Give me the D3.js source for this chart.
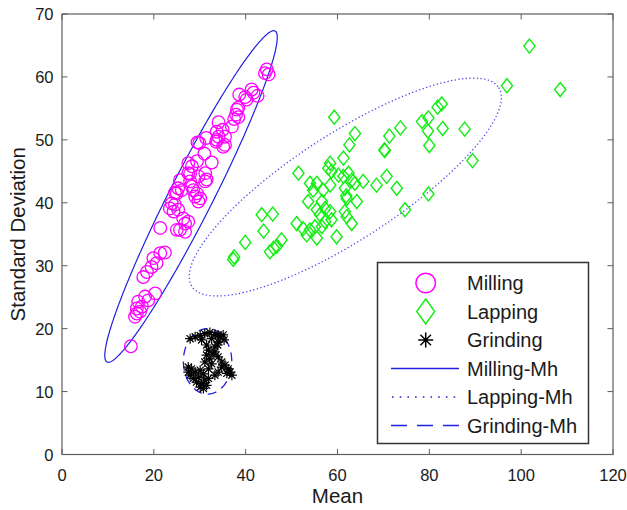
<!DOCTYPE html>
<html><head><meta charset="utf-8">
<script src="https://cdn.jsdelivr.net/npm/d3@7"></script>
<style>
html,body{margin:0;padding:0;background:#fff;}
text{font-family:"Liberation Sans",Arial,sans-serif;}
</style></head>
<body>
<svg id="chart" width="627" height="510"></svg>
<script>
// ---------- data ----------
const milling = [
[44.6,61.2],[44.2,60.6],[45.0,60.4],
[38.6,57.2],[39.9,56.8],[41.3,58.0],[41.7,57.5],[42.6,57.0],[40.2,56.4],
[38.1,54.8],[37.9,54.0],[37.5,53.3],[38.4,53.6],[38.4,55.1],
[37.0,52.1],[34.1,52.8],[33.7,51.3],[35.0,51.6],[34.1,50.5],[35.5,50.5],[33.6,49.7],[35.1,48.9],[33.7,50.0],[35.5,49.2],
[29.5,49.6],[31.4,50.3],[29.9,49.5],
[31.0,47.8],[32.6,46.4],[27.5,46.3],[29.4,46.6],[28.3,45.8],
[27.9,44.6],[27.9,43.4],[31.2,44.7],[31.5,43.7],[29.7,44.2],[27.5,44.7],
[25.7,43.6],[25.3,42.3],[28.3,42.6],[28.6,42.0],[29.4,41.5],[24.6,41.6],[29.0,41.0],[30.1,40.7],[31.2,43.4],[26.1,42.0],[25.0,41.5],[29.7,40.2],
[24.6,39.7],[23.5,39.1],[24.3,38.6],[25.3,38.9],[23.9,39.9],
[26.4,37.5],[27.5,37.0],[26.8,36.7],[25.7,35.7],[26.8,35.4],[25.0,35.7],
[21.4,36.0],
[21.4,32.0],[22.4,32.1],[19.9,31.2],[20.6,30.4],[19.5,29.8],[18.5,29.0],[17.7,28.2],
[18.1,25.1],[18.8,24.5],[16.6,24.3],[17.4,23.5],[20.3,25.6],[16.3,23.2],
[16.3,22.4],[15.9,21.9],[17.0,22.7],
[15.0,17.2]
];
const lapping = [
[101.8,64.9],[108.5,58.0],[96.9,58.6],[73.7,51.9],[71.3,50.6],[78.4,52.9],[79.8,53.5],[81.8,55.2],[82.7,55.7],
[79.7,51.4],[82.9,51.8],[87.7,51.7],[80.0,49.1],[89.4,46.7],[79.8,41.4],[70.2,48.4],[59.3,53.6],[63.8,51.0],
[61.9,41.1],[43.5,38.1],[45.9,38.2],[43.9,35.5],[39.9,33.7],[45.3,32.2],[46.1,32.8],[46.8,33.1],[37.3,31.0],[37.5,31.4],
[62.6,49.2],[70.3,48.3],[61.3,47.1],[58.4,46.3],[58.0,45.5],[58.7,45.0],[51.5,44.7],[60.2,44.4],[61.3,44.2],[62.4,44.7],
[63.1,43.6],[63.8,43.1],[65.6,43.4],[68.5,42.8],[70.7,44.2],[72.9,42.3],[54.0,43.1],[55.5,43.1],[54.7,42.0],[56.9,42.0],
[58.4,42.8],[61.6,42.3],[53.6,40.2],[56.6,40.2],[62.0,40.7],[64.2,40.2],[55.5,38.9],[57.3,39.1],[58.4,38.6],[56.2,38.1],
[61.6,38.6],[62.0,37.8],[63.1,36.7],[58.7,37.3],[51.1,36.7],[52.5,35.9],[54.0,35.7],[55.1,36.2],[56.6,36.2],[53.3,34.9],
[55.5,34.4],[59.8,34.6],[47.8,34.1],[74.7,38.9],[57.3,37.0]
];
const grinding = [
[27.9,18.4],[29.0,18.7],[30.1,18.9],[31.1,19.2],[32.2,19.4],[33.3,19.1],[34.4,18.7],[35.3,18.2],[34.0,17.9],[32.6,18.4],[30.4,18.2],
[34.0,19.0],[35.1,19.0],[33.3,17.1],[33.9,17.4],
[31.5,17.4],[31.9,16.6],[31.5,15.8],[32.2,15.2],[32.6,14.4],[31.9,13.6],[32.9,16.0],[31.1,14.7],
[33.3,16.3],[34.0,15.5],[34.8,14.7],[35.5,14.2],[36.2,13.6],[36.6,13.1],[37.0,12.6],[35.9,12.9],[34.8,13.9],
[27.5,13.9],[28.2,13.6],[29.0,13.1],[30.1,13.4],[27.9,12.6],[28.6,12.1],[29.7,12.3],[30.8,12.8],[29.3,11.5],[30.4,11.3],
[31.1,11.8],[31.9,12.1],[31.5,11.0],[30.8,10.5],[33.3,12.6],[34.0,13.1],[30.1,10.7],[27.5,13.1]
];
// Mahalanobis ellipses: centre, half-axis vector 1, half-axis vector 2 (data units)
const millingMh  = {c:[28.1,41.0], u:[18.3,26.3], v:[4.22,-1.56]};
const lappingMh  = {c:[61.7,42.5], u:[33.4,15.8], v:[6.29,-7.07]};
const grindingMh = {c:[31.7,14.8], u:[5.27,0],    v:[0,5.2]};
const xTicks = [0,20,40,60,80,100,120];
const yTicks = [0,10,20,30,40,50,60,70];
const legendLabels = ["Milling","Lapping","Grinding","Milling-Mh","Lapping-Mh","Grinding-Mh"];

// ---------- layout ----------
const svg = d3.select("#chart");
const L=62, R=613, T=14, B=454.5;
const x = d3.scaleLinear().domain([0,120]).range([L,R]);
const y = d3.scaleLinear().domain([0,70]).range([B,T]);
const axisCol = "#5e5e5e", txtCol="#1a1a1a";

// ellipses
function ellPts(e){
  const pts=[];
  for(let i=0;i<=360;i++){
    const t=i/360*2*Math.PI;
    pts.push([e.c[0]+e.u[0]*Math.cos(t)+e.v[0]*Math.sin(t), e.c[1]+e.u[1]*Math.cos(t)+e.v[1]*Math.sin(t)]);
  }
  return pts;
}
const line = d3.line().x(d=>x(d[0])).y(d=>y(d[1]));
const blue="#1f1fe0";
svg.append("path").attr("d",line(ellPts(millingMh))).attr("fill","none").attr("stroke",blue).attr("stroke-width",1.2);
svg.append("path").attr("d",line(ellPts(lappingMh))).attr("fill","none").attr("stroke","#4a4af0").attr("stroke-width",1.3).attr("stroke-dasharray","1.3,2.4");
svg.append("path").attr("d",line(ellPts(grindingMh))).attr("fill","none").attr("stroke",blue).attr("stroke-width",1.3).attr("stroke-dasharray","9,6");

// markers
function diamond(g,cx,cy,w,h,col){
  g.append("path").attr("d",`M${cx},${cy-h}L${cx+w},${cy}L${cx},${cy+h}L${cx-w},${cy}Z`)
   .attr("fill","none").attr("stroke",col).attr("stroke-width",1.4);
}
function asterisk(g,cx,cy,s,col,sw){
  const d=s*0.7071;
  g.append("path").attr("d",`M${cx-s},${cy}L${cx+s},${cy}M${cx},${cy-s}L${cx},${cy+s}M${cx-d},${cy-d}L${cx+d},${cy+d}M${cx-d},${cy+d}L${cx+d},${cy-d}`)
   .attr("stroke",col).attr("stroke-width",sw).attr("fill","none");
}
const gM = svg.append("g");
gM.selectAll("circle").data(milling).join("circle")
  .attr("cx",d=>x(d[0])).attr("cy",d=>y(d[1])).attr("r",6.3)
  .attr("fill","none").attr("stroke","#ff00ff").attr("stroke-width",1.3);
const gL = svg.append("g");
lapping.forEach(d=>diamond(gL,x(d[0]),y(d[1]),5.6,7,"#11ee11"));
const gG = svg.append("g");
grinding.forEach(d=>asterisk(gG,x(d[0]),y(d[1]),5,"#000",1.2));

// axes box
const ax = svg.append("g");
ax.append("rect").attr("x",L).attr("y",T).attr("width",R-L).attr("height",B-T)
  .attr("fill","none").attr("stroke",axisCol).attr("stroke-width",1.2);
xTicks.forEach(v=>{
  ax.append("line").attr("x1",x(v)).attr("x2",x(v)).attr("y1",B).attr("y2",B-5.5).attr("stroke",axisCol).attr("stroke-width",1);
  ax.append("line").attr("x1",x(v)).attr("x2",x(v)).attr("y1",T).attr("y2",T+5.5).attr("stroke",axisCol).attr("stroke-width",1);
  ax.append("text").attr("x",x(v)).attr("y",480.5).attr("text-anchor","middle").attr("font-size",16.5).attr("fill",txtCol).text(v);
});
yTicks.forEach(v=>{
  ax.append("line").attr("x1",L).attr("x2",L+5.5).attr("y1",y(v)).attr("y2",y(v)).attr("stroke",axisCol).attr("stroke-width",1);
  ax.append("line").attr("x1",R).attr("x2",R-5.5).attr("y1",y(v)).attr("y2",y(v)).attr("stroke",axisCol).attr("stroke-width",1);
  ax.append("text").attr("x",53.5).attr("y",y(v)+6).attr("text-anchor","end").attr("font-size",16.5).attr("fill",txtCol).text(v);
});
svg.append("text").attr("x",(L+R)/2).attr("y",503).attr("text-anchor","middle").attr("font-size",20.5).attr("fill",txtCol).text("Mean");
svg.append("text").attr("transform",`translate(25,${(T+B)/2}) rotate(-90)`).attr("text-anchor","middle").attr("font-size",20.5).attr("fill",txtCol).text("Standard Deviation");

// legend
const lg = svg.append("g");
lg.append("rect").attr("x",377.5).attr("y",262.5).attr("width",211).attr("height",181)
  .attr("fill","#fff").attr("stroke","#333").attr("stroke-width",1.5);
const rowY = i=>283+i*28.5;
const sx=425.7;
lg.append("circle").attr("cx",sx).attr("cy",rowY(0)).attr("r",9.8).attr("fill","none").attr("stroke","#ff00ff").attr("stroke-width",1.5);
diamond(lg,sx,rowY(1),9,12.5,"#11ee11");
asterisk(lg,sx,rowY(2),7.5,"#000",1.5);
lg.append("line").attr("x1",391).attr("x2",459).attr("y1",rowY(3)).attr("y2",rowY(3)).attr("stroke",blue).attr("stroke-width",1.5);
lg.append("line").attr("x1",392).attr("x2",459).attr("y1",rowY(4)).attr("y2",rowY(4)).attr("stroke",blue).attr("stroke-width",1.6).attr("stroke-dasharray","1.6,6.1");
lg.append("line").attr("x1",391).attr("x2",459).attr("y1",rowY(5)).attr("y2",rowY(5)).attr("stroke",blue).attr("stroke-width",1.5).attr("stroke-dasharray","16,10");
legendLabels.forEach((t,i)=>{
  lg.append("text").attr("x",467).attr("y",rowY(i)+7).attr("font-size",20).attr("fill",txtCol).text(t);
});
</script>
</body></html>
